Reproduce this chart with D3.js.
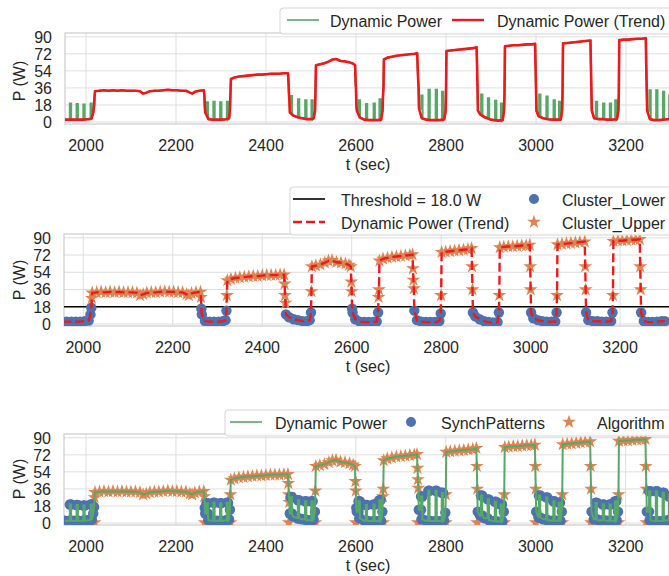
<!DOCTYPE html>
<html>
<head>
<meta charset="utf-8">
<script src="https://cdn.jsdelivr.net/npm/d3@7"></script>
<style>
  body { margin: 0; background: #fff; }
  svg { display: block; font-family: "Liberation Sans", Arial, sans-serif; }
</style>
</head>
<body>
<svg id="chart" width="669" height="576"></svg>
<script>
// smoothed dynamic power, [t (sec), P (W)]
var trendPoints = [
  [1953,2.5],[1963,2.5],[1973,2.5],[1983,2.5],[1993,2.5],[2003,3],[2012,3.5],[2016,10],[2018,17],
  [2019,27],[2020,32.5],
  [2030,33],[2040,33.5],[2050,33],[2060,33.5],[2070,33],[2080,33.5],[2090,33],[2100,33],[2110,33],
  [2120,32.5],[2127,30],[2134,31],[2142,32.5],[2152,33],[2162,33],[2172,33.5],[2182,34],[2192,33.5],
  [2202,33.5],[2212,33],[2222,33],[2231,31],[2236,30],[2242,32],[2252,33],[2262,33.5],
  [2263,28],[2264,16],[2265,10],
  [2272,3],[2282,2.5],[2292,2.5],[2302,2.5],[2312,3],[2318,4],[2320,14],
  [2321,30],[2322,45.5],
  [2330,47],[2340,48],[2350,48.5],[2360,49],[2370,49.5],[2380,50],[2390,50],[2400,50.5],[2410,51],
  [2420,51],[2430,51],[2440,51.5],[2449,51.5],
  [2450,42],[2451,30],[2452,22],[2453,10],
  [2460,7],[2470,5],[2480,4],[2490,3],[2500,3],[2506,4],[2509,12],
  [2510,34],[2511,60],
  [2520,61],[2530,62],[2540,64],[2548,66],[2556,66.5],[2566,64.5],[2576,64],[2586,63],[2594,61.5],[2598,60],
  [2599,44],[2600,34],[2601,16],[2602,12],
  [2608,5],[2618,2.5],[2628,2],[2638,2],[2648,2],[2656,2.5],[2659,12],
  [2660,28],[2661,36],[2662,66],
  [2670,68],[2680,69],[2690,70],[2700,70.5],[2710,71],[2720,71.5],[2730,72],[2736,72.5],
  [2737,58],[2738,46],[2739,37],[2740,14],
  [2746,4],[2756,2.5],[2766,2],[2776,2],[2786,2],[2796,3],[2799,11],
  [2800,30],[2801,75],
  [2810,75.5],[2820,76],[2830,76.5],[2840,77],[2850,77.5],[2860,78],[2868,79],
  [2869,60],[2870,36],[2871,12],
  [2876,8],[2886,5],[2896,3],[2906,2],[2916,1.5],[2926,2],[2929,12],
  [2930,30],[2931,80],
  [2940,80.5],[2950,81],[2960,81],[2970,81.5],[2980,82],[2990,82],[2998,82.5],
  [2999,60],[3000,36],[3001,12],
  [3006,6],[3016,4],[3026,3],[3036,2.5],[3046,2.5],[3055,2.5],[3058,12],
  [3059,30],[3060,83],
  [3070,83.5],[3080,84],[3090,84.5],[3100,85],[3110,85.5],[3121,86],
  [3122,60],[3123,36],[3124,12],
  [3129,4],[3139,3],[3149,3],[3159,2.5],[3169,2.5],[3180,3],[3183,12],
  [3184,30],[3185,86.5],
  [3195,87],[3205,87],[3215,87.5],[3225,88],[3235,88],[3244,88.5],
  [3245,60],[3246,36],[3247,12],
  [3253,3],[3263,2],[3273,2],[3283,2.5],[3293,3],[3300,3]
];

// raw power bursts in the low phases, [start t, peak P]
var pulsePoints = [
  [1964,19.5],[1979,19],[1994,18.5],[2010,19.5],
  [2268,21],[2283,21.5],[2298,21],[2313,21.5],
  [2455,27.5],[2471,24],[2487,23],[2501,23],
  [2606,23],[2622,19],[2639,19.5],[2652,24],
  [2745,28],[2761,34],[2777,34],[2791,32],
  [2878,29],[2893,25],[2909,22.5],[2922,19.5],
  [3007,29],[3023,27],[3039,23],[3051,21.5],
  [3133,21.5],[3149,19.5],[3164,19.5],[3176,23],
  [3252,33.5],[3267,33.5],[3282,32],[3296,28]
];

// extra algorithm marks sitting on the floor at phase edges
var algoBase = [
  [2019,0.5],[2264,0.5],[2321,0.5],[2451,0.5],[2510,0.5],[2600,0.5],[2661,0.5],[2738,0.5],
  [2800,0.5],[2870,0.5],[2930,0.5],[3000,0.5],[3059,0.5],[3123,0.5],[3184,0.5],[3246,0.5]
];

var yTicks = [0, 18, 36, 54, 72, 90];
var xTicks = [2000, 2200, 2400, 2600, 2800, 3000, 3200];
var threshold = 18.0;
var PULSE_WIDTH = 3;

var green = "#55a868", red = "#f01818", blue = "#4c72b0", orange = "#dd8452";
var gridColor = "#dedede", spineColor = "#cccccc", textColor = "#262626";

var svg = d3.select("#chart");

// raw signal = trend with the bursts put in
var bisectT = d3.bisector(d => d[0]).right;
function trendAt(t) {
  let i = bisectT(trendPoints, t) - 1;
  return trendPoints[Math.max(0, i)][1];
}
function inPulse(t) {
  return pulsePoints.some(([s]) => t >= s - 0.01 && t <= s + PULSE_WIDTH + 0.01);
}
var raw = trendPoints.filter(d => !inPulse(d[0])).map(d => ({ t: d[0], p: d[1], pulse: false }));
pulsePoints.forEach(([s, h]) => {
  raw.push({ t: s, p: trendAt(s), pulse: true });
  raw.push({ t: s + 0.01, p: h, pulse: true });
  raw.push({ t: s + PULSE_WIDTH - 0.01, p: h, pulse: true });
  raw.push({ t: s + PULSE_WIDTH, p: trendAt(s + PULSE_WIDTH), pulse: true });
});
raw.sort((a, b) => a.t - b.t);

var lowerPts = trendPoints.filter(d => d[1] < threshold);
var upperPts = trendPoints.filter(d => d[1] >= threshold);
var synchPts = raw.filter(d => d.pulse).map(d => [d.t, d.p]).concat(lowerPts);
var algoPts = upperPts.concat(algoBase);

var panels = [
  { left: 65, right: 671, top: 33, bottom: 124, t0: 1953.3, t1: 3300, ylab: 81 },
  { left: 64, right: 672, top: 234, bottom: 326, t0: 1956.9, t1: 3316, ylab: 280 },
  { left: 64, right: 672, top: 434, bottom: 525, t0: 1951.1, t1: 3303, ylab: 479 }
];

var star = d3.symbol().type(d3.symbolStar).size(60);

function setupPanel(cfg, id) {
  let x = d3.scaleLinear().domain([cfg.t0, cfg.t1]).range([cfg.left, cfg.right]);
  let y = d3.scaleLinear().domain([-2.1, 94]).range([cfg.bottom, cfg.top]);
  let g = svg.append("g");

  g.append("clipPath").attr("id", "clip" + id)
    .append("rect")
    .attr("x", cfg.left).attr("y", cfg.top)
    .attr("width", cfg.right - cfg.left).attr("height", cfg.bottom - cfg.top);

  g.append("g").selectAll("line").data(yTicks).join("line")
    .attr("x1", cfg.left).attr("x2", cfg.right)
    .attr("y1", d => y(d)).attr("y2", d => y(d))
    .attr("stroke", gridColor).attr("stroke-width", 1);
  g.append("g").selectAll("line").data(xTicks).join("line")
    .attr("x1", d => x(d)).attr("x2", d => x(d))
    .attr("y1", cfg.top).attr("y2", cfg.bottom)
    .attr("stroke", gridColor).attr("stroke-width", 1);

  g.append("rect")
    .attr("x", cfg.left).attr("y", cfg.top)
    .attr("width", cfg.right - cfg.left).attr("height", cfg.bottom - cfg.top)
    .attr("fill", "none").attr("stroke", spineColor).attr("stroke-width", 1.2);

  g.append("g").selectAll("text").data(yTicks).join("text")
    .attr("x", cfg.left - 13).attr("y", d => y(d)).attr("dy", "0.36em")
    .attr("text-anchor", "end").attr("font-size", 16).attr("fill", textColor)
    .text(d => d);
  g.append("g").selectAll("text").data(xTicks).join("text")
    .attr("x", d => x(d)).attr("y", cfg.bottom + 27)
    .attr("text-anchor", "middle").attr("font-size", 16).attr("fill", textColor)
    .text(d => d);

  g.append("text")
    .attr("x", (cfg.left + cfg.right) / 2).attr("y", cfg.bottom + 46)
    .attr("text-anchor", "middle").attr("font-size", 16).attr("fill", textColor)
    .text("t (sec)");
  g.append("text")
    .attr("transform", `translate(25, ${cfg.ylab}) rotate(-90)`)
    .attr("text-anchor", "middle").attr("font-size", 16).attr("fill", textColor)
    .text("P (W)");

  let plot = g.append("g").attr("clip-path", `url(#clip${id})`);
  return { x, y, g, plot };
}

function drawLegend(box, items) {
  let lg = svg.append("g");
  lg.append("rect")
    .attr("x", box.x).attr("y", box.y).attr("width", box.w).attr("height", box.h)
    .attr("rx", 3).attr("fill", "white").attr("fill-opacity", 0.85)
    .attr("stroke", "#d5d5d5").attr("stroke-width", 1);
  items.forEach(it => {
    if (it.kind === "line") {
      lg.append("line")
        .attr("x1", it.x).attr("x2", it.x + 32).attr("y1", it.y).attr("y2", it.y)
        .attr("stroke", it.color).attr("stroke-width", it.width)
        .attr("stroke-dasharray", it.dash || null);
    } else if (it.kind === "circle") {
      lg.append("circle").attr("cx", it.x).attr("cy", it.y).attr("r", 5).attr("fill", it.color);
    } else {
      lg.append("path").attr("d", star).attr("transform", `translate(${it.x},${it.y})`).attr("fill", it.color);
    }
    lg.append("text")
      .attr("x", it.tx).attr("y", it.y + 6.5)
      .attr("font-size", 16).attr("fill", textColor)
      .text(it.label);
  });
}

// ---- panel 1: raw and trend
(function () {
  let { x, y, plot } = setupPanel(panels[0], 1);
  plot.append("path").datum(raw)
    .attr("fill", "none").attr("stroke", green).attr("stroke-width", 2)
    .attr("d", d3.line().x(d => x(d.t)).y(d => y(d.p)));
  plot.append("path").datum(trendPoints)
    .attr("fill", "none").attr("stroke", red).attr("stroke-width", 2.6).attr("stroke-linejoin", "round")
    .attr("d", d3.line().x(d => x(d[0])).y(d => y(d[1])));
  drawLegend({ x: 280, y: 8, w: 400, h: 26 }, [
    { kind: "line", color: green, width: 1.6, x: 287, y: 20, tx: 330, label: "Dynamic Power" },
    { kind: "line", color: red, width: 2.4, x: 452, y: 20, tx: 497, label: "Dynamic Power (Trend)" }
  ]);
})();

// ---- panel 2: clusters around the threshold
(function () {
  let { x, y, plot } = setupPanel(panels[1], 2);
  plot.append("line")
    .attr("x1", panels[1].left).attr("x2", panels[1].right)
    .attr("y1", y(threshold)).attr("y2", y(threshold))
    .attr("stroke", "black").attr("stroke-width", 1.6);
  plot.append("g").selectAll("circle").data(lowerPts).join("circle")
    .attr("cx", d => x(d[0])).attr("cy", d => y(d[1])).attr("r", 5.2).attr("fill", blue);
  plot.append("g").selectAll("path").data(upperPts).join("path")
    .attr("d", star).attr("transform", d => `translate(${x(d[0])},${y(d[1])})`).attr("fill", orange);
  plot.append("path").datum(trendPoints)
    .attr("fill", "none").attr("stroke", red).attr("stroke-width", 2.4).attr("stroke-dasharray", "9,4")
    .attr("d", d3.line().x(d => x(d[0])).y(d => y(d[1])));
  drawLegend({ x: 290, y: 187, w: 400, h: 48 }, [
    { kind: "line", color: "black", width: 1.6, x: 293, y: 199, tx: 341, label: "Threshold = 18.0 W" },
    { kind: "line", color: red, width: 2.4, dash: "9,4", x: 293, y: 222, tx: 341, label: "Dynamic Power (Trend)" },
    { kind: "circle", color: blue, x: 534, y: 199, tx: 562, label: "Cluster_Lower" },
    { kind: "star", color: orange, x: 534, y: 222, tx: 562, label: "Cluster_Upper" }
  ]);
})();

// ---- panel 3: synch patterns vs algorithm
(function () {
  let { x, y, plot } = setupPanel(panels[2], 3);
  plot.append("g").selectAll("path").data(algoPts).join("path")
    .attr("d", star).attr("transform", d => `translate(${x(d[0])},${y(d[1])})`).attr("fill", orange);
  plot.append("g").selectAll("circle").data(synchPts).join("circle")
    .attr("cx", d => x(d[0])).attr("cy", d => y(d[1])).attr("r", 5.2).attr("fill", blue);
  plot.append("path").datum(raw)
    .attr("fill", "none").attr("stroke", green).attr("stroke-width", 2)
    .attr("d", d3.line().x(d => x(d.t)).y(d => y(d.p)));
  drawLegend({ x: 225, y: 410, w: 460, h: 26 }, [
    { kind: "line", color: green, width: 1.6, x: 230, y: 422, tx: 275, label: "Dynamic Power" },
    { kind: "circle", color: blue, x: 411, y: 422, tx: 441, label: "SynchPatterns" },
    { kind: "star", color: orange, x: 569, y: 422, tx: 597, label: "Algorithm" }
  ]);
})();
</script>
</body>
</html>
